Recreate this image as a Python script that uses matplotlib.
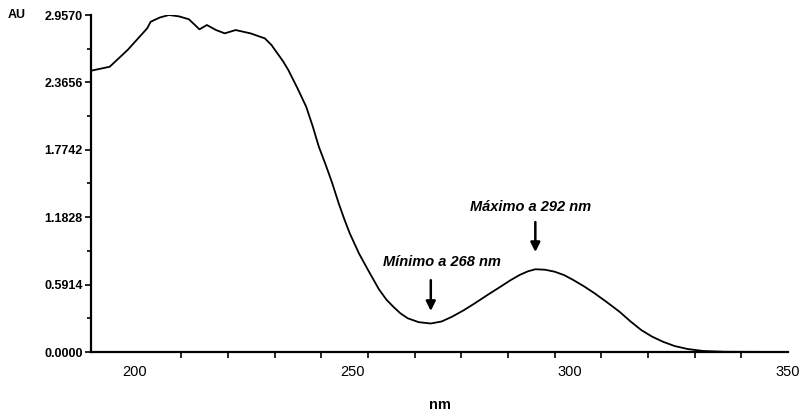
import numpy as np
import matplotlib.pyplot as plt
from matplotlib.ticker import FixedLocator

# UV absorption spectrum (nm vs AU)
wavelength = [190.0, 194.3, 198.4, 202.9, 203.7, 205.8, 207.9, 210.2, 212.5,
              214.9, 216.6, 218.7, 220.7, 223.2, 226.6, 229.9, 231.4, 232.8,
              234.1, 235.3, 237.4, 239.4, 240.9, 242.3, 243.8, 245.3, 246.9,
              248.2, 249.4, 251.5, 253.6, 256.1, 257.8, 259.4, 261.0, 262.7,
              265.2, 268.0, 270.5, 272.9, 275.5, 278.1, 281.0, 284.0, 286.3,
              288.4, 290.3, 292.0, 294.2, 296.4, 298.6, 300.7, 303.1, 305.6,
              308.5, 311.3, 313.8, 316.3, 318.8, 321.3, 324.0, 327.0, 330.5,
              335.5, 350.0]
absorbance = [2.468, 2.503, 2.650, 2.840, 2.898, 2.935, 2.957, 2.945, 2.919,
              2.831, 2.869, 2.825, 2.796, 2.825, 2.796, 2.752, 2.695, 2.620,
              2.550, 2.474, 2.314, 2.152, 1.980, 1.801, 1.650, 1.490, 1.300,
              1.160, 1.041, 0.866, 0.719, 0.550, 0.460, 0.397, 0.340, 0.296,
              0.262, 0.250, 0.268, 0.310, 0.365, 0.427, 0.500, 0.573, 0.630,
              0.676, 0.708, 0.726, 0.722, 0.705, 0.675, 0.632, 0.578, 0.515,
              0.435, 0.354, 0.270, 0.193, 0.135, 0.090, 0.052, 0.026, 0.009,
              0.002, 0.000]

y_ticks = [0.0, 0.5914, 1.1828, 1.7742, 2.3656, 2.9570]
x_ticks = [200, 250, 300, 350]

min_nm, min_label = 268.0, "Mínimo a 268 nm"
max_nm, max_label = 292.0, "Máximo a 292 nm"

plt.rcParams['font.family'] = ['Liberation Sans', 'DejaVu Sans']

fig = plt.figure(figsize=(8.05, 4.19), dpi=100)
ax = fig.add_axes([91 / 805, 67 / 419, 697 / 805, 337 / 419])

ax.plot(wavelength, absorbance, color='black', lw=1.3)

ax.set_xlim(190, 350)
ax.set_ylim(0, 2.957)

for side in ('top', 'right'):
    ax.spines[side].set_visible(False)
for side in ('left', 'bottom'):
    ax.spines[side].set_linewidth(1.6)

# y axis: labelled ticks plus a midpoint tick between each
ax.set_yticks(y_ticks)
ax.set_yticklabels([f"{v:.4f}" for v in y_ticks])
ax.yaxis.set_minor_locator(FixedLocator(
    [(a + b) / 2 for a, b in zip(y_ticks[:-1], y_ticks[1:])]))
ax.tick_params(axis='y', which='major', length=4, width=1.2, pad=2,
               labelsize=9)
ax.tick_params(axis='y', which='minor', length=3, width=1.2)
for t in ax.get_yticklabels():
    t.set_fontweight('bold')

# x axis: evenly spaced tick marks, labels without marks
ax.set_xticks(x_ticks)
ax.set_xticklabels([str(v) for v in x_ticks])
ax.xaxis.set_minor_locator(FixedLocator(np.linspace(200, 350, 15)))
ax.tick_params(axis='x', which='major', length=0, pad=9, labelsize=10.5)
ax.tick_params(axis='x', which='minor', length=4, width=1.2)

ax.set_xlabel("nm", fontsize=10.5, fontweight='bold', labelpad=14)
fig.text(8 / 805, 1 - 15 / 419, "AU", fontsize=9, fontweight='bold',
         va='center', ha='left')

arrow = dict(arrowstyle='-|>', color='black', lw=1.8, mutation_scale=14,
             shrinkA=0, shrinkB=0)
ax.annotate("", xy=(min_nm, 0.36), xytext=(min_nm, 0.63), arrowprops=arrow)
ax.annotate("", xy=(max_nm, 0.877), xytext=(max_nm, 1.14), arrowprops=arrow)
ax.text(min_nm + 2.5, 0.79, min_label, fontsize=10.5, style='italic',
        fontweight='bold', ha='center', va='center')
ax.text(max_nm - 1.0, 1.27, max_label, fontsize=10.5, style='italic',
        fontweight='bold', ha='center', va='center')

fig.savefig("out.png", dpi=100)
